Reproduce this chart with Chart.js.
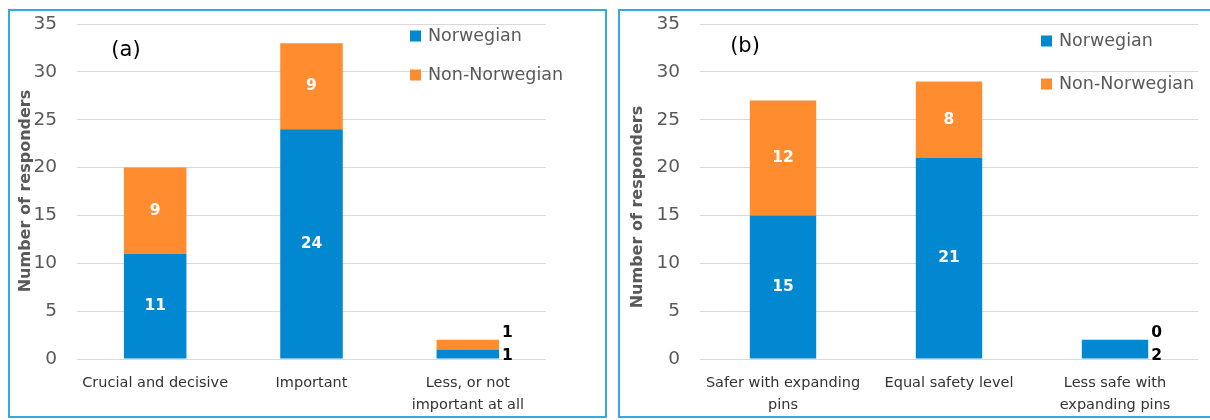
<!DOCTYPE html>
<html>
<head>
<meta charset="utf-8">
<script src="https://cdn.jsdelivr.net/npm/chart.js@4.4.1/dist/chart.umd.min.js"></script>
<style>
    body { margin: 0; background: #fff; width: 1210px; height: 420px; overflow: hidden; position: relative; }
    .panel { position: absolute; border: 2px solid #35aae2; }
    #panel-a { left: 8px; top: 9px; width: 595px; height: 405px; }
    #panel-b { left: 618px; top: 9px; width: 592px; height: 405px; }
    canvas { display: block; }
</style>
</head>
<body>
<div class="panel" id="panel-a"><canvas id="chartA" width="595" height="405"></canvas></div>
<div class="panel" id="panel-b"><canvas id="chartB" width="592" height="405"></canvas></div>
<script>
// Chart data
const categoriesA = [['Crucial and decisive'], 'Important', ['Less, or not', 'important at all']];
const norwegianA = [11, 24, 1];
const nonNorwegianA = [9, 9, 1];

const categoriesB = [['Safer with expanding', 'pins'], 'Equal safety level', ['Less safe with', 'expanding pins']];
const norwegianB = [15, 21, 2];
const nonNorwegianB = [12, 8, 0];

const yMax = 35;
const yStep = 5;
const seriesNames = ['Norwegian', 'Non-Norwegian'];
const yTitle = 'Number of responders';

const FONT = '"DejaVu Sans"';
const BLUE = '#0288d1';
const ORANGE = '#ff8c2e';

// Data labels, legend, panel tag and y title drawn on the canvas
const panelDecor = {
    id: 'panelDecor',
    afterDatasetsDraw(chart) {
        const ctx = chart.ctx;
        chart.data.datasets.forEach((ds, i) => {
            const meta = chart.getDatasetMeta(i);
            meta.data.forEach((bar, j) => {
                const v = ds.data[j];
                const h = Math.abs(bar.base - bar.y);
                ctx.save();
                ctx.font = 'bold 15.5px ' + FONT;
                ctx.textBaseline = 'middle';
                if (h >= 20) {
                    ctx.fillStyle = '#fff';
                    ctx.textAlign = 'center';
                    ctx.fillText(v, bar.x, (bar.y + bar.base) / 2);
                } else {
                    // small segments get their label beside the bar
                    ctx.fillStyle = '#000';
                    ctx.textAlign = 'left';
                    const y = i === 0 ? bar.base - 3 : bar.y - 7;
                    ctx.fillText(v, bar.x + bar.width / 2 + 3, y);
                }
                ctx.restore();
            });
        });
    },
    afterDraw(chart, args, opts) {
        const ctx = chart.ctx;
        ctx.save();
        // legend
        ctx.font = '17.5px ' + FONT;
        ctx.textBaseline = 'middle';
        ctx.textAlign = 'left';
        chart.data.datasets.forEach((ds, i) => {
            const y = opts.legendY[i];
            ctx.fillStyle = ds.backgroundColor;
            ctx.fillRect(opts.legendX, y - 5.5, 11, 11);
            ctx.fillStyle = '#595959';
            ctx.fillText(ds.label, opts.legendX + 18, y);
        });
        // (a) / (b)
        ctx.font = '21px ' + FONT;
        ctx.fillStyle = '#000';
        ctx.textAlign = 'center';
        ctx.fillText(opts.tag, opts.tagX, opts.tagY);
        // y axis title
        ctx.translate(opts.titleX, opts.titleY);
        ctx.rotate(-Math.PI / 2);
        ctx.font = 'bold 16px ' + FONT;
        ctx.fillStyle = '#595959';
        ctx.fillText(yTitle, 0, 0);
        ctx.restore();
    }
};

function buildChart(canvasId, categories, norwegian, nonNorwegian, layout, decor) {
    return new Chart(document.getElementById(canvasId), {
        type: 'bar',
        data: {
            labels: categories,
            datasets: [
                { label: seriesNames[0], data: norwegian, backgroundColor: BLUE },
                { label: seriesNames[1], data: nonNorwegian, backgroundColor: ORANGE }
            ]
        },
        options: {
            responsive: false,
            animation: false,
            events: [],
            layout: { padding: { top: 13, right: layout.right, bottom: 0, left: 0 } },
            datasets: { bar: { barPercentage: 0.4, categoryPercentage: 1 } },
            scales: {
                x: {
                    stacked: true,
                    grid: { display: false, drawTicks: false },
                    border: { display: false },
                    ticks: {
                        padding: 12.5,
                        maxRotation: 0,
                        autoSkip: false,
                        color: '#333',
                        font: { family: FONT, size: 14.5, lineHeight: 1.55 }
                    },
                    afterFit: s => { s.height = 57; }
                },
                y: {
                    stacked: true,
                    min: 0,
                    max: yMax,
                    grid: { color: '#d9d9d9', drawTicks: false },
                    border: { display: false },
                    ticks: {
                        stepSize: yStep,
                        padding: 20,
                        color: '#595959',
                        font: { family: FONT, size: 18.5 }
                    },
                    afterFit: s => {
                        s.width = layout.yWidth;
                        // tick padding would otherwise push the plot top down
                        s.paddingTop = 10;
                        s.paddingBottom = 10;
                    }
                }
            },
            plugins: {
                legend: { display: false },
                tooltip: { enabled: false },
                panelDecor: decor
            }
        },
        plugins: [panelDecor]
    });
}

buildChart('chartA', categoriesA, norwegianA, nonNorwegianA,
    { right: 59, yWidth: 67 },
    { tag: '(a)', tagX: 116, tagY: 40, legendX: 400, legendY: [25, 64], titleX: 16, titleY: 180 });

buildChart('chartB', categoriesB, norwegianB, nonNorwegianB,
    { right: 14, yWidth: 80 },
    { tag: '(b)', tagX: 125, tagY: 36, legendX: 421, legendY: [30, 73], titleX: 18, titleY: 196 });
</script>
</body>
</html>
